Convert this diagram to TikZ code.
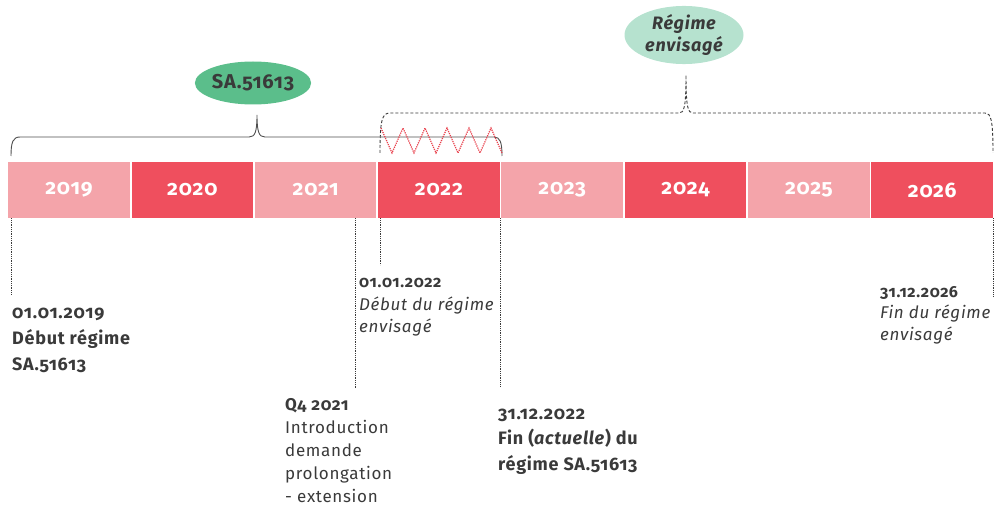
\documentclass[tikz,border=0pt]{standalone}
\usepackage{fontspec}
\setmainfont{Fira Sans}[Numbers=OldStyle,LetterSpace=4]
\usetikzlibrary{shapes.geometric}
\definecolor{lightred}{HTML}{F4A4AA}
\definecolor{darkred}{HTML}{EF4F5E}
\definecolor{greenpill}{HTML}{5BBE8B}
\definecolor{mintpill}{HTML}{B6E2CF}
\definecolor{ink}{HTML}{3A3A3A}
\definecolor{zigzag}{HTML}{E8404C}

\begin{document}
\begin{tikzpicture}[x=1pt,y=-1pt,
		year/.style={minimum width=121.5pt,minimum height=56pt,inner sep=0,text=white,font=\fontsize{21}{24}\selectfont\bfseries},
		yearlight/.style={year,fill=lightred},
		yeardark/.style={year,fill=darkred},
		pill/.style={ellipse,inner sep=0,text=ink},
		tick/.style={densely dotted,ink,line width=0.8pt},
		note/.style={anchor=north west,inner sep=0,align=left,text=ink}
		]
		\useasboundingbox (0,0) rectangle (996,505);
		%Draw years
		\foreach \yr/\shade [count=\i from 0] in {2019/yearlight,2020/yeardark,2021/yearlight,2022/yeardark,2023/yearlight,2024/yeardark,2025/yearlight,2026/yeardark}
			\node[\shade] (y\yr) at ({69+123.3*\i},190) {\yr};
		%Draw regimes
		\node[pill,fill=greenpill,minimum width=110pt,minimum height=43pt,font=\fontsize{20}{22}\selectfont\bfseries] (sa) at (253,83) {SA.51613};
		\node[pill,fill=mintpill,minimum width=119pt,minimum height=54pt,align=center,font=\fontsize{18}{22}\selectfont\bfseries\itshape] (envisage) at (684,35) {Régime\\envisagé};
		\draw[ink!90,line width=0.9pt] (11,156) .. controls (11,142) and (13,137) .. (20,137) -- (249,137)
			.. controls (255,137) and (257,132) .. (257,115)
			.. controls (257,132) and (259,137) .. (265,137) -- (494,137)
			.. controls (500,137) and (502,142) .. (502,156);
		\draw[ink,line width=0.9pt,dash pattern=on 3pt off 2pt] (380,153) .. controls (380,120) and (382,113) .. (390,113) -- (679,113)
			.. controls (684,113) and (686,108) .. (686,75)
			.. controls (686,108) and (688,113) .. (693,113) -- (985,113)
			.. controls (991,113) and (993,120) .. (993,153);
		\draw[zigzag,densely dotted,line width=1.2pt] (381,128)
			\foreach \k in {1,...,11} { -- ({381+11*\k},{128+25*mod(\k,2)}) };
		%Draw dates
		\coordinate (t2019) at (11,295);
		\coordinate (tq4) at (355,388);
		\coordinate (t2022) at (380,265);
		\coordinate (tend) at (500,387);
		\coordinate (t2026) at (993,297);
		\draw[tick] (t2019 |- y2019.south) -- (t2019);
		\draw[tick] (tq4 |- y2021.south) -- (tq4);
		\draw[tick] (t2022 |- y2022.south) -- (t2022);
		\draw[tick] (tend |- y2022.south) -- (tend);
		\draw[tick] (t2026 |- y2026.south) -- (t2026);
		\node[note,font=\fontsize{18}{26}\selectfont\bfseries] (n2019) at (12,300) {\strut 01.01.2019\\Début régime\\SA.51613};
		\node[note,font=\fontsize{17}{22.5}\selectfont] (n2022) at (359,272) {\strut\textbf{\fontsize{16}{22.5}\selectfont 01.01.2022}\\\textit{Début du régime}\\\textit{envisagé}};
		\node[note,font=\fontsize{17}{23}\selectfont] (nq4) at (285,394) {\strut\textbf{Q4 2021}\\Introduction\\demande\\prolongation\\- extension};
		\node[note,font=\fontsize{18}{25.5}\selectfont\bfseries] (nend) at (498,401) {\strut 31.12.2022\\Fin (\textit{actuelle}) du\\régime SA.51613};
		\node[note,font=\fontsize{17}{21.5}\selectfont] (n2026) at (880,282) {\strut\textbf{\fontsize{16}{21.5}\selectfont 31.12.2026}\\\textit{Fin du régime}\\\textit{envisagé}};
	\end{tikzpicture}
\end{document}
